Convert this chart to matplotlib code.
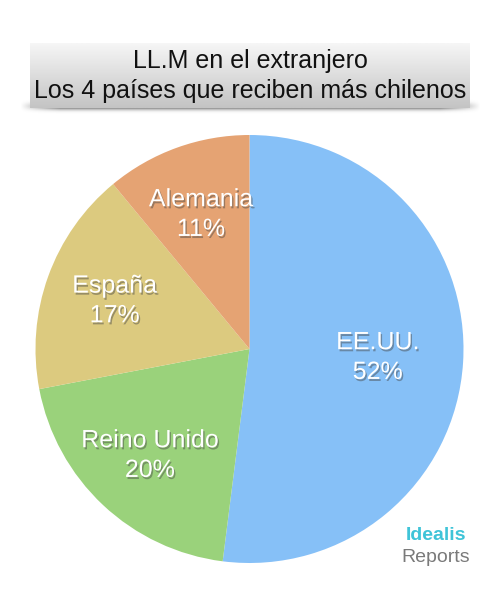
import numpy as np
import matplotlib.pyplot as plt
import matplotlib.patheffects as pe
from matplotlib.colors import LinearSegmentedColormap

# data
countries = ['EE.UU.', 'Reino Unido', 'España', 'Alemania']
shares = [52, 20, 17, 11]
colors = ['#86C0F7', '#9AD27B', '#DCCA7F', '#E5A373']
title_lines = ['LL.M en el extranjero', 'Los 4 países que reciben más chilenos']

plt.rcParams['font.family'] = ['Liberation Sans', 'DejaVu Sans']

fig = plt.figure(figsize=(5, 5.94), dpi=100)
W, H = 500, 594

# title box with gradient and a soft shadow under it
bg = fig.add_axes([0, 0, 1, 1])
bg.set_xlim(0, W)
bg.set_ylim(H, 0)
bg.axis('off')
yy, xx = np.mgrid[0:40, 0:460]
sh = np.exp(-((yy - 12) / 5.5) ** 2) * np.clip(np.minimum(xx, 460 - xx) / 40.0, 0, 1)
rgba = np.zeros(sh.shape + (4,))
rgba[..., 3] = sh * 0.6
bg.imshow(rgba, extent=(20, 480, 124, 98), aspect='auto', zorder=1)
grad = np.linspace(0, 1, 64).reshape(-1, 1)
bg.imshow(grad, cmap=LinearSegmentedColormap.from_list('g', ['#F6F6F6', '#C4C4C4']),
          extent=(30, 470, 108, 43), aspect='auto', zorder=2)
bg.text(250, 61, title_lines[0], ha='center', va='center', fontsize=18, color='#111111', zorder=3)
bg.text(250, 91, title_lines[1], ha='center', va='center', fontsize=18, color='#111111', zorder=3)

# logo
bg.text(436, 535, 'Idealis', ha='center', va='center', fontsize=14, fontweight='bold',
        color='#3FC4D8')
bg.text(436, 558, 'Reports', ha='center', va='center', fontsize=14, color='#7A7A7A')

# pie
r = 214
cx, cy = 249.5, 349
ax = fig.add_axes([(cx - r) / W, 1 - (cy + r) / H, 2 * r / W, 2 * r / H])
wedges, _ = ax.pie(shares, colors=colors, startangle=90, counterclock=False,
                   wedgeprops=dict(linewidth=0))
ax.set_xlim(-1, 1)
ax.set_ylim(-1, 1)
ax.set_aspect('auto')
dists = [0.6, 0.68, 0.67, 0.67]
shadow = [pe.SimplePatchShadow(offset=(1, -1.5), shadow_rgbFace='#444444', alpha=0.45), pe.Normal()]
for w, name, s, d in zip(wedges, countries, shares, dists):
    ang = np.deg2rad((w.theta1 + w.theta2) / 2)
    ax.text(d * np.cos(ang), d * np.sin(ang), f'{name}\n{s}%', ha='center', va='center',
            fontsize=18, color='white', linespacing=1.3, path_effects=shadow)

fig.savefig('out.png', dpi=100)
